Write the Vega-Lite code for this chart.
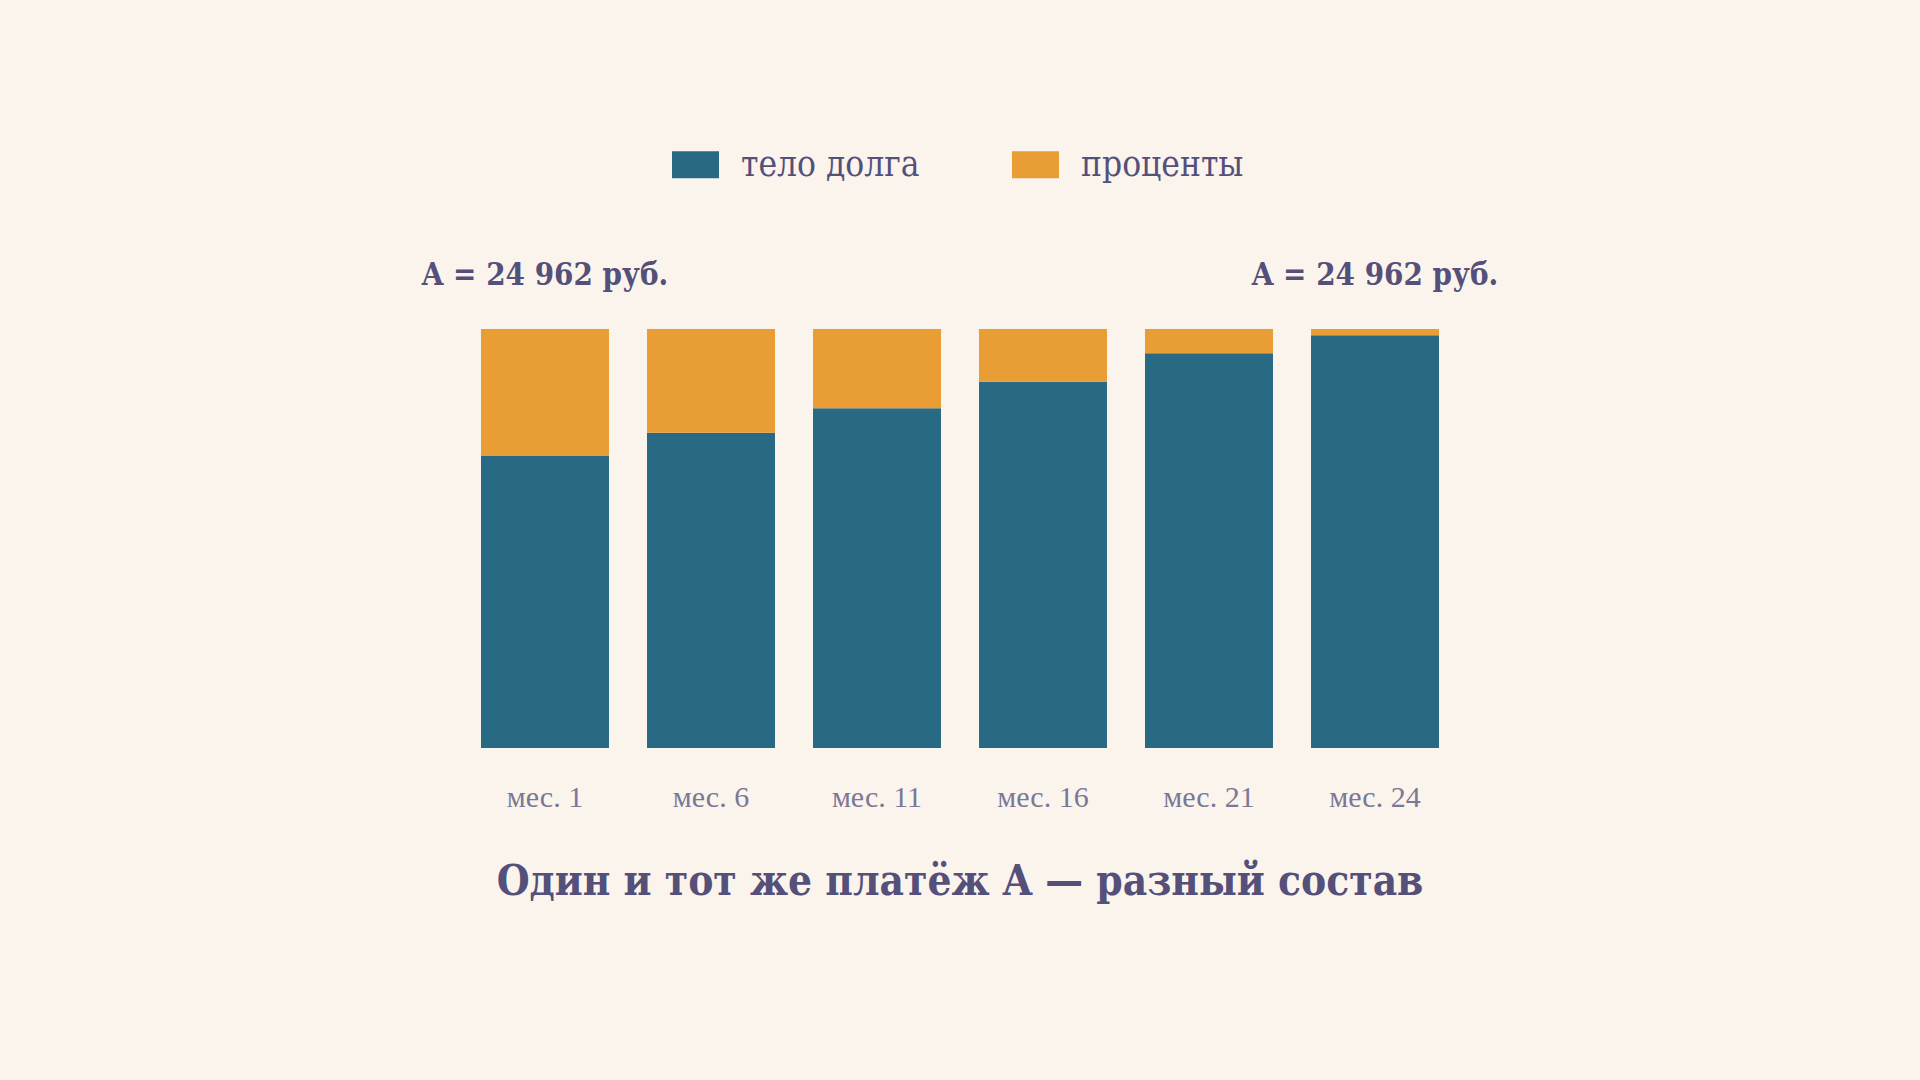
{
  "$schema": "https://vega.github.io/schema/vega-lite/v6.json",
  "width": 996,
  "height": 419,
  "autosize": {"type": "none"},
  "padding": {"left": 462, "top": 329, "right": 462, "bottom": 332},
  "background": "#faf4ed",
  "title": {
    "text": "Один и тот же платёж A — разный состав",
    "orient": "bottom",
    "anchor": "middle",
    "font": "DejaVu Serif Condensed",
    "fontSize": 42,
    "fontWeight": "bold",
    "color": "#54507a",
    "offset": 50
  },
  "datasets": {
    "parts": [
      {"month": "мес. 1", "part": "тело долга", "amount": 17422},
      {"month": "мес. 1", "part": "проценты", "amount": 7540},
      {"month": "мес. 6", "part": "тело долга", "amount": 18782},
      {"month": "мес. 6", "part": "проценты", "amount": 6180},
      {"month": "мес. 11", "part": "тело долга", "amount": 20242},
      {"month": "мес. 11", "part": "проценты", "amount": 4720},
      {"month": "мес. 16", "part": "тело долга", "amount": 21812},
      {"month": "мес. 16", "part": "проценты", "amount": 3150},
      {"month": "мес. 21", "part": "тело долга", "amount": 23512},
      {"month": "мес. 21", "part": "проценты", "amount": 1450},
      {"month": "мес. 24", "part": "тело долга", "amount": 24592},
      {"month": "мес. 24", "part": "проценты", "amount": 370}
    ],
    "notes": [
      {"month": "мес. 1", "total": 24962, "label": "A = 24 962 руб."},
      {"month": "мес. 24", "total": 24962, "label": "A = 24 962 руб."}
    ]
  },
  "layer": [
    {
      "data": {"name": "parts"},
      "mark": {"type": "bar"},
      "encoding": {
        "x": {
          "field": "month",
          "type": "nominal",
          "sort": null,
          "scale": {"paddingInner": 0.229, "paddingOuter": 0.1145},
          "axis": {
            "title": null,
            "labelAngle": 0,
            "ticks": false,
            "domain": false,
            "labelFont": "Liberation Serif",
            "labelFontSize": 30,
            "labelColor": "#7b7896",
            "labelBaseline": "alphabetic",
            "labelPadding": 58
          }
        },
        "y": {
          "field": "amount",
          "type": "quantitative",
          "stack": "zero",
          "scale": {"domain": [0, 24962], "nice": false},
          "axis": null
        },
        "color": {
          "field": "part",
          "type": "nominal",
          "scale": {
            "domain": ["тело долга", "проценты"],
            "range": ["#286a84", "#e99d35"]
          },
          "legend": {
            "title": null,
            "orient": "none",
            "legendX": 210,
            "legendY": -188,
            "direction": "horizontal",
            "padding": 0,
            "symbolType": "M-1,-0.574H1V0.574H-1Z",
            "symbolSize": 2209,
            "symbolStrokeWidth": 0,
            "labelFont": "DejaVu Serif Condensed",
            "labelFontSize": 35,
            "labelLimit": 400,
            "labelColor": "#54507a",
            "labelOffset": 22,
            "columnPadding": 92
          }
        },
        "order": {"field": "part", "sort": "descending"}
      }
    },
    {
      "data": {"name": "notes"},
      "mark": {
        "type": "text",
        "baseline": "alphabetic",
        "align": "center",
        "dy": -44,
        "font": "DejaVu Serif Condensed",
        "fontSize": 31,
        "fontWeight": "bold",
        "color": "#54507a"
      },
      "encoding": {
        "x": {"field": "month", "type": "nominal", "sort": null},
        "y": {"field": "total", "type": "quantitative"},
        "text": {"field": "label"}
      }
    }
  ],
  "config": {"view": {"stroke": null}}
}
